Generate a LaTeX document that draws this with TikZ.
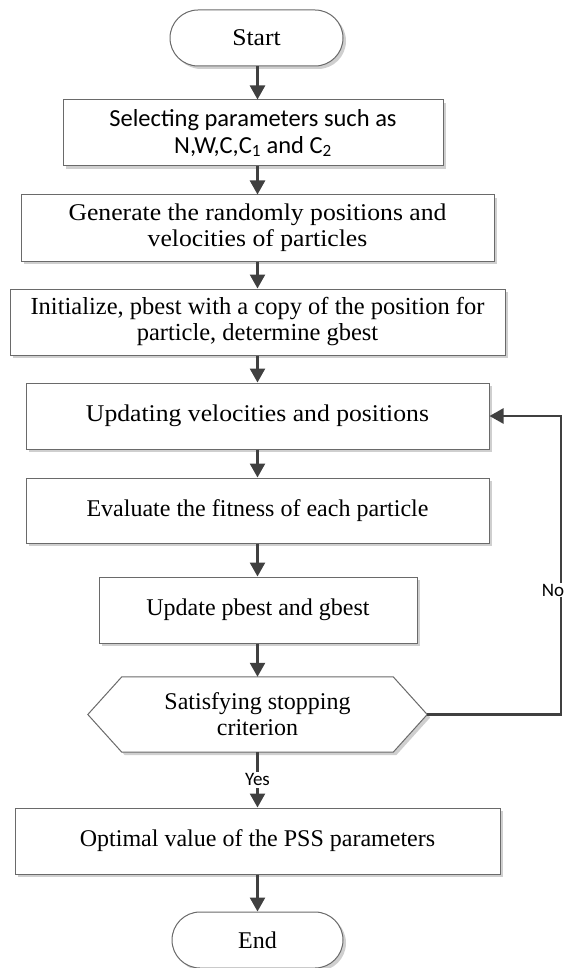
\documentclass[tikz,border=0pt]{standalone}
\usepackage{fontspec}
\setmainfont{Liberation Serif}
\newfontfamily\carlito{Carlito}
\newfontfamily\widefont{Liberation Serif}[FakeStretch=1.07]
\usetikzlibrary{arrows.meta,shadows,calc}
\definecolor{boxgray}{HTML}{6A6A6A}
\definecolor{arrgray}{HTML}{404040}
\definecolor{shadowgray}{HTML}{CFCFCF}
\begin{document}
\begin{tikzpicture}[x=1pt,y=-1pt,
  box/.style={draw=boxgray, line width=1pt, fill=white, inner sep=0pt, align=center,
    font=\fontsize{24}{26}\selectfont,
    drop shadow={shadow xshift=3pt, shadow yshift=-3pt, fill=shadowgray, opacity=1}},
  term/.style={box, rounded corners=28pt, minimum width=173pt, minimum height=56pt},
  arr/.style={draw=arrgray, line width=2.5pt, -{Triangle[width=15pt,length=14pt]}},
  lab/.style={fill=white, inner sep=1.5pt, font=\carlito\fontsize{19}{19}\selectfont}
]
\useasboundingbox (0,0) rectangle (566,968);

\node[term] (start) at (256.5,38) {\widefont Start};
\node[box, minimum width=380pt, minimum height=66pt, font=\carlito\fontsize{24.5}{27}\selectfont] (b1) at (253,133)
  {Selecting parameters such as\\ N,W,C,C\textsubscript{1} and C\textsubscript{2}};
\node[box, minimum width=473pt, minimum height=66pt] (b2) at (257.5,228)
  {\widefont Generate the randomly positions and\\ \widefont velocities of particles};
\node[box, minimum width=495pt, minimum height=66pt, font=\fontsize{24.5}{26}\selectfont] (b3) at (257.5,322)
  {Initialize, pbest with a copy of the position for\\ particle, determine gbest};
\node[box, minimum width=463pt, minimum height=66pt] (b4) at (257.5,416)
  {\widefont Updating velocities and positions};
\node[box, minimum width=463pt, minimum height=65pt] (b5) at (257.5,510.5)
  {Evaluate the fitness of each particle};
\node[box, minimum width=318pt, minimum height=66pt] (b6) at (258,610)
  {Update pbest and gbest};
\node[inner sep=0pt, minimum width=339pt, minimum height=75pt] (hex) at (257.5,714.5) {};
\draw[draw=boxgray, line width=1pt, fill=white,
    drop shadow={shadow xshift=3pt, shadow yshift=-3pt, fill=shadowgray, opacity=1}]
  (hex.west) -- ($(hex.north west)+(34,0)$) -- ($(hex.north east)+(-34,0)$) -- (hex.east)
  -- ($(hex.south east)+(-34,0)$) -- ($(hex.south west)+(34,0)$) -- cycle;
\node[align=center, inner sep=0pt, font=\fontsize{24}{26}\selectfont] (hext) at (hex.center)
  {Satisfying stopping\\ criterion};
\node[box, minimum width=485pt, minimum height=66pt] (b7) at (257.5,841)
  {Optimal value of the PSS parameters};
\node[term, minimum width=171pt] (end) at (257.5,940) {End};

\draw[arr] (b2.north |- start.south) -- (b2.north |- b1.north);
\draw[arr] (b2.north |- b1.south) -- (b2.north);
\draw[arr] (b2.south) -- (b3.north);
\draw[arr] (b3.south) -- (b4.north);
\draw[arr] (b4.south) -- (b5.north);
\draw[arr] (b5.south) -- (b5.south |- b6.north);
\draw[arr] (b5.south |- b6.south) -- (b5.south |- hex.north);
\draw[arr] (hex.south) -- node[lab] {Yes} (b7.north);
\draw[arr] (b7.south) -- (end.north);
\coordinate (loopc) at (561,714.5);
\draw[arr] (hex.east) -- (loopc) |- (b4.east);
\node[lab, inner sep=1pt] (no) at (553,590) {No};
\end{tikzpicture}
\end{document}
